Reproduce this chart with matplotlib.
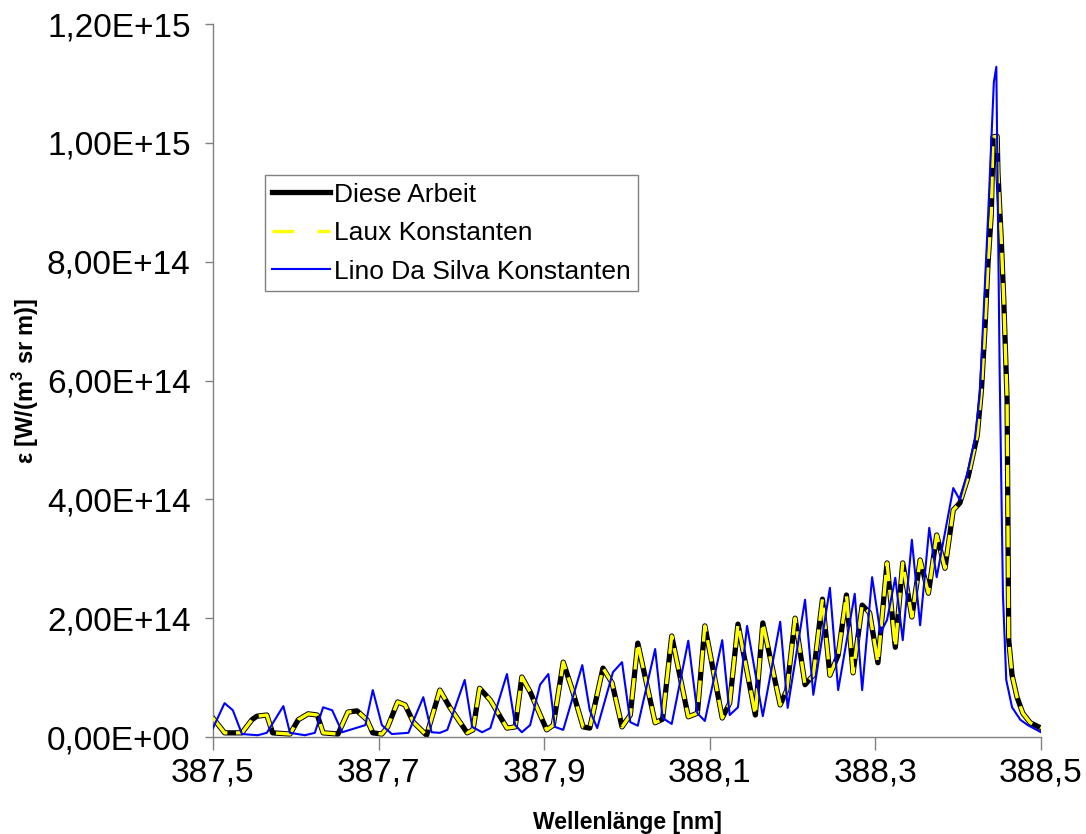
import matplotlib
matplotlib.use("Agg")
import matplotlib.pyplot as plt
from matplotlib.lines import Line2D
from matplotlib.ticker import FuncFormatter

plt.rcParams['font.family'] = ['Liberation Sans', 'DejaVu Sans']
plt.rcParams['mathtext.fontset'] = 'custom'
plt.rcParams['mathtext.rm'] = 'Liberation Sans'
plt.rcParams['mathtext.bf'] = 'Liberation Sans:bold'

# wavelength [nm] and emission [1E14 W/(m^3 sr m)], own calculation
wl_diese = [387.500, 387.514, 387.535, 387.547, 387.553, 387.565, 387.572,
            387.593, 387.603, 387.615, 387.626, 387.633, 387.651, 387.663,
            387.674, 387.686, 387.693, 387.704, 387.711, 387.723, 387.732,
            387.742, 387.758, 387.774, 387.786, 387.807, 387.814, 387.822,
            387.835, 387.855, 387.865, 387.873, 387.883, 387.903, 387.911,
            387.923, 387.934, 387.947, 387.955, 387.971, 387.982, 387.994,
            388.004, 388.013, 388.034, 388.043, 388.054, 388.074, 388.085,
            388.094, 388.115, 388.124, 388.134, 388.155, 388.164, 388.185,
            388.193, 388.203, 388.215, 388.225, 388.236, 388.245, 388.255,
            388.265, 388.273, 388.284, 388.293, 388.303, 388.314, 388.324,
            388.333, 388.344, 388.354, 388.364, 388.374, 388.384, 388.394,
            388.402, 388.412, 388.423, 388.428, 388.432, 388.436, 388.440,
            388.442, 388.447, 388.448, 388.452, 388.455, 388.459, 388.461,
            388.465, 388.471, 388.478, 388.487, 388.500]
eps_diese = [0.32, 0.07, 0.07, 0.29, 0.35, 0.37, 0.07,
             0.05, 0.29, 0.39, 0.37, 0.07, 0.05, 0.42,
             0.44, 0.29, 0.07, 0.05, 0.17, 0.59, 0.54,
             0.25, 0.03, 0.79, 0.50, 0.07, 0.12, 0.82,
             0.62, 0.15, 0.17, 1.01, 0.76, 0.12, 0.20,
             1.26, 0.79, 0.17, 0.15, 1.16, 0.91, 0.17,
             0.37, 1.58, 0.24, 0.30, 1.70, 0.34, 0.40,
             1.87, 0.32, 0.57, 1.90, 0.37, 1.92, 0.54,
             0.79, 2.00, 0.88, 1.04, 2.32, 1.04, 1.38,
             2.39, 1.08, 2.22, 2.09, 1.25, 2.93, 1.51,
             2.93, 2.02, 2.98, 2.42, 3.40, 2.84, 3.82,
             3.94, 4.38, 5.08, 5.84, 6.80, 7.98, 8.82,
             10.10, 10.11, 9.49, 8.36, 7.35, 5.67, 1.63,
             1.04, 0.67, 0.40, 0.24, 0.15]

# Laux constants give the same curve
wl_laux = list(wl_diese)
eps_laux = list(eps_diese)

# Lino Da Silva constants
wl_lino = [387.500, 387.514, 387.524, 387.535, 387.554, 387.565, 387.585,
           387.593, 387.611, 387.623, 387.633, 387.644, 387.656, 387.684,
           387.693, 387.704, 387.716, 387.736, 387.754, 387.764, 387.774,
           387.783, 387.804, 387.813, 387.825, 387.835, 387.855, 387.865,
           387.873, 387.883, 387.895, 387.905, 387.913, 387.923, 387.946,
           387.955, 387.964, 387.983, 387.994, 388.004, 388.013, 388.034,
           388.043, 388.054, 388.074, 388.085, 388.094, 388.115, 388.124,
           388.134, 388.145, 388.164, 388.185, 388.194, 388.215, 388.225,
           388.245, 388.255, 388.275, 388.284, 388.296, 388.306, 388.314,
           388.324, 388.333, 388.344, 388.354, 388.365, 388.374, 388.394,
           388.402, 388.412, 388.420, 388.426, 388.436, 388.443, 388.446,
           388.450, 388.454, 388.458, 388.465, 388.475, 388.484, 388.500]
eps_lino = [0.15, 0.57, 0.45, 0.05, 0.03, 0.07, 0.52,
            0.07, 0.03, 0.07, 0.50, 0.45, 0.08, 0.20,
            0.79, 0.20, 0.05, 0.07, 0.67, 0.08, 0.07,
            0.12, 0.96, 0.17, 0.08, 0.15, 1.06, 0.20,
            0.08, 0.20, 0.88, 1.06, 0.17, 0.12, 1.21,
            0.45, 0.15, 1.09, 1.26, 0.25, 0.19, 1.48,
            0.32, 0.22, 1.62, 0.40, 0.27, 1.63, 0.37,
            0.50, 1.87, 0.35, 1.94, 0.49, 2.31, 0.71,
            2.51, 0.79, 2.41, 0.79, 2.69, 1.75, 1.97,
            2.68, 1.63, 3.32, 1.88, 3.52, 2.69, 4.19,
            3.99, 4.49, 5.00, 5.76, 8.75, 11.02, 11.28,
            6.18, 2.39, 0.96, 0.50, 0.29, 0.20, 0.08]

labels = ["Diese Arbeit", "Laux Konstanten", "Lino Da Silva Konstanten"]
x_ticks = [387.5, 387.7, 387.9, 388.1, 388.3, 388.5]
y_ticks = [0.0, 2e14, 4e14, 6e14, 8e14, 1e15, 1.2e15]

fig = plt.figure(figsize=[10.86, 8.34], dpi=100)
ax = fig.add_axes([0.1961, 0.1163, 0.7625, 0.8549])

# plotting
ax.plot(wl_diese, [v * 1e14 for v in eps_diese], c='black', lw=3.8,
        solid_joinstyle='round', zorder=2)
ax.plot(wl_laux, [v * 1e14 for v in eps_laux], c='#ffff00', lw=2.4,
        dashes=(6.5, 2.6), dash_capstyle='butt', zorder=3)
ax.plot(wl_lino, [v * 1e14 for v in eps_lino], c='#0000ff', lw=1.5,
        zorder=4)

ax.set_xlim(387.5, 388.5)
ax.set_ylim(0, 1.2e15)
ax.set_xticks(x_ticks)
ax.set_yticks(y_ticks)
ax.xaxis.set_major_formatter(
    FuncFormatter(lambda v, p: "{:.1f}".format(v).replace('.', ',')))
ax.yaxis.set_major_formatter(
    FuncFormatter(lambda v, p: "{:.2E}".format(v).replace('.', ',')))
ax.tick_params(axis='both', labelsize=24, color='#808080', width=1,
               direction='out')
ax.tick_params(axis='x', length=9, pad=6)
ax.tick_params(axis='y', length=6, pad=10)

for side in ['top', 'right']:
    ax.spines[side].set_visible(False)
for side in ['left', 'bottom']:
    ax.spines[side].set_color('#808080')
    ax.spines[side].set_linewidth(1)

# labelling
ax.set_xlabel("Wellenlänge [nm]", fontsize=16.5, fontweight='bold')
ax.xaxis.set_label_coords(0.5, -0.104)
ax.set_ylabel(r"ε [W/(m$^{\mathbf{3}}$ sr m)]", fontsize=17,
              fontweight='bold')
ax.yaxis.set_label_coords(-0.208, 0.5)

handles = [Line2D([], [], c='black', lw=3.8),
           Line2D([], [], c='#ffff00', lw=2.4, dashes=(6.5, 7)),
           Line2D([], [], c='#0000ff', lw=1.5)]
leg = ax.legend(handles, labels, loc='upper left',
                bbox_to_anchor=(0.0628, 0.788), borderaxespad=0,
                fontsize=19, fancybox=False, framealpha=1,
                edgecolor='#808080', handlelength=2.2, handletextpad=0.12,
                borderpad=0.28, labelspacing=0.55)
leg.get_frame().set_linewidth(1)

plt.savefig("out.png", dpi=100)
